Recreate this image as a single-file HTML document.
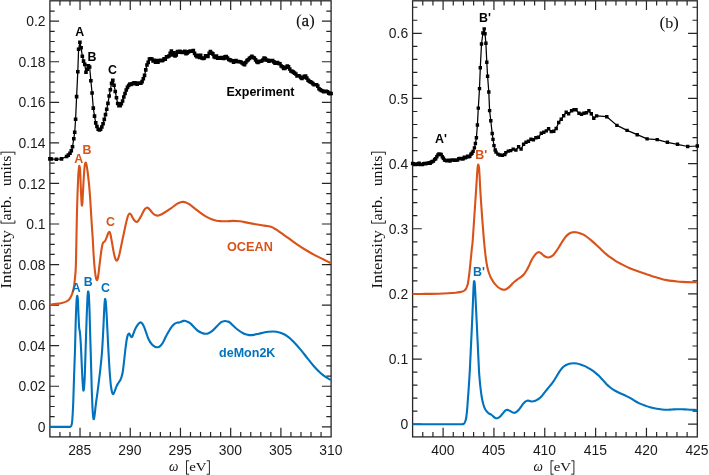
<!DOCTYPE html>
<html><head><meta charset="utf-8"><title>XAS spectra</title>
<style>html,body{margin:0;padding:0;background:#fff;}body{width:709px;height:475px;overflow:hidden;position:relative;font-family:"Liberation Sans",sans-serif;}</style>
</head><body>
<svg width="709" height="475" viewBox="0 0 709 475" style="position:absolute;left:0;top:0;will-change:transform;opacity:0.999">
<rect width="709" height="475" fill="#fff"/>
<path d="M59.94 436.90 v-4.80 M59.94 0.80 v4.80 M69.99 436.90 v-4.80 M69.99 0.80 v4.80 M80.03 436.90 v-9.20 M80.03 0.80 v9.20 M90.07 436.90 v-4.80 M90.07 0.80 v4.80 M100.11 436.90 v-4.80 M100.11 0.80 v4.80 M110.16 436.90 v-4.80 M110.16 0.80 v4.80 M120.20 436.90 v-4.80 M120.20 0.80 v4.80 M130.24 436.90 v-9.20 M130.24 0.80 v9.20 M140.29 436.90 v-4.80 M140.29 0.80 v4.80 M150.33 436.90 v-4.80 M150.33 0.80 v4.80 M160.37 436.90 v-4.80 M160.37 0.80 v4.80 M170.41 436.90 v-4.80 M170.41 0.80 v4.80 M180.46 436.90 v-9.20 M180.46 0.80 v9.20 M190.50 436.90 v-4.80 M190.50 0.80 v4.80 M200.54 436.90 v-4.80 M200.54 0.80 v4.80 M210.59 436.90 v-4.80 M210.59 0.80 v4.80 M220.63 436.90 v-4.80 M220.63 0.80 v4.80 M230.67 436.90 v-9.20 M230.67 0.80 v9.20 M240.71 436.90 v-4.80 M240.71 0.80 v4.80 M250.76 436.90 v-4.80 M250.76 0.80 v4.80 M260.80 436.90 v-4.80 M260.80 0.80 v4.80 M270.84 436.90 v-4.80 M270.84 0.80 v4.80 M280.89 436.90 v-9.20 M280.89 0.80 v9.20 M290.93 436.90 v-4.80 M290.93 0.80 v4.80 M300.97 436.90 v-4.80 M300.97 0.80 v4.80 M311.01 436.90 v-4.80 M311.01 0.80 v4.80 M321.06 436.90 v-4.80 M321.06 0.80 v4.80 M49.90 426.80 h9.20 M331.10 426.80 h-9.20 M49.90 416.66 h4.80 M331.10 416.66 h-4.80 M49.90 406.52 h4.80 M331.10 406.52 h-4.80 M49.90 396.38 h4.80 M331.10 396.38 h-4.80 M49.90 386.24 h9.20 M331.10 386.24 h-9.20 M49.90 376.10 h4.80 M331.10 376.10 h-4.80 M49.90 365.96 h4.80 M331.10 365.96 h-4.80 M49.90 355.82 h4.80 M331.10 355.82 h-4.80 M49.90 345.68 h9.20 M331.10 345.68 h-9.20 M49.90 335.54 h4.80 M331.10 335.54 h-4.80 M49.90 325.40 h4.80 M331.10 325.40 h-4.80 M49.90 315.26 h4.80 M331.10 315.26 h-4.80 M49.90 305.12 h9.20 M331.10 305.12 h-9.20 M49.90 294.98 h4.80 M331.10 294.98 h-4.80 M49.90 284.84 h4.80 M331.10 284.84 h-4.80 M49.90 274.70 h4.80 M331.10 274.70 h-4.80 M49.90 264.56 h9.20 M331.10 264.56 h-9.20 M49.90 254.42 h4.80 M331.10 254.42 h-4.80 M49.90 244.28 h4.80 M331.10 244.28 h-4.80 M49.90 234.14 h4.80 M331.10 234.14 h-4.80 M49.90 224.00 h9.20 M331.10 224.00 h-9.20 M49.90 213.86 h4.80 M331.10 213.86 h-4.80 M49.90 203.72 h4.80 M331.10 203.72 h-4.80 M49.90 193.58 h4.80 M331.10 193.58 h-4.80 M49.90 183.44 h9.20 M331.10 183.44 h-9.20 M49.90 173.30 h4.80 M331.10 173.30 h-4.80 M49.90 163.16 h4.80 M331.10 163.16 h-4.80 M49.90 153.02 h4.80 M331.10 153.02 h-4.80 M49.90 142.88 h9.20 M331.10 142.88 h-9.20 M49.90 132.74 h4.80 M331.10 132.74 h-4.80 M49.90 122.60 h4.80 M331.10 122.60 h-4.80 M49.90 112.46 h4.80 M331.10 112.46 h-4.80 M49.90 102.32 h9.20 M331.10 102.32 h-9.20 M49.90 92.18 h4.80 M331.10 92.18 h-4.80 M49.90 82.04 h4.80 M331.10 82.04 h-4.80 M49.90 71.90 h4.80 M331.10 71.90 h-4.80 M49.90 61.76 h9.20 M331.10 61.76 h-9.20 M49.90 51.62 h4.80 M331.10 51.62 h-4.80 M49.90 41.48 h4.80 M331.10 41.48 h-4.80 M49.90 31.34 h4.80 M331.10 31.34 h-4.80 M49.90 21.20 h9.20 M331.10 21.20 h-9.20 M49.90 11.06 h4.80 M331.10 11.06 h-4.80" stroke="#262626" stroke-width="1.2" fill="none"/>
<rect x="49.90" y="0.80" width="281.20" height="436.10" fill="none" stroke="#262626" stroke-width="1.3"/>
<path d="M422.77 436.90 v-4.80 M422.77 0.80 v4.80 M432.94 436.90 v-4.80 M432.94 0.80 v4.80 M443.10 436.90 v-9.20 M443.10 0.80 v9.20 M453.27 436.90 v-4.80 M453.27 0.80 v4.80 M463.44 436.90 v-4.80 M463.44 0.80 v4.80 M473.61 436.90 v-4.80 M473.61 0.80 v4.80 M483.77 436.90 v-4.80 M483.77 0.80 v4.80 M493.94 436.90 v-9.20 M493.94 0.80 v9.20 M504.11 436.90 v-4.80 M504.11 0.80 v4.80 M514.28 436.90 v-4.80 M514.28 0.80 v4.80 M524.45 436.90 v-4.80 M524.45 0.80 v4.80 M534.61 436.90 v-4.80 M534.61 0.80 v4.80 M544.78 436.90 v-9.20 M544.78 0.80 v9.20 M554.95 436.90 v-4.80 M554.95 0.80 v4.80 M565.12 436.90 v-4.80 M565.12 0.80 v4.80 M575.29 436.90 v-4.80 M575.29 0.80 v4.80 M585.45 436.90 v-4.80 M585.45 0.80 v4.80 M595.62 436.90 v-9.20 M595.62 0.80 v9.20 M605.79 436.90 v-4.80 M605.79 0.80 v4.80 M615.96 436.90 v-4.80 M615.96 0.80 v4.80 M626.12 436.90 v-4.80 M626.12 0.80 v4.80 M636.29 436.90 v-4.80 M636.29 0.80 v4.80 M646.46 436.90 v-9.20 M646.46 0.80 v9.20 M656.63 436.90 v-4.80 M656.63 0.80 v4.80 M666.80 436.90 v-4.80 M666.80 0.80 v4.80 M676.96 436.90 v-4.80 M676.96 0.80 v4.80 M687.13 436.90 v-4.80 M687.13 0.80 v4.80 M412.60 424.20 h9.20 M697.30 424.20 h-9.20 M412.60 411.17 h4.80 M697.30 411.17 h-4.80 M412.60 398.14 h4.80 M697.30 398.14 h-4.80 M412.60 385.11 h4.80 M697.30 385.11 h-4.80 M412.60 372.08 h4.80 M697.30 372.08 h-4.80 M412.60 359.05 h9.20 M697.30 359.05 h-9.20 M412.60 346.02 h4.80 M697.30 346.02 h-4.80 M412.60 332.99 h4.80 M697.30 332.99 h-4.80 M412.60 319.96 h4.80 M697.30 319.96 h-4.80 M412.60 306.93 h4.80 M697.30 306.93 h-4.80 M412.60 293.90 h9.20 M697.30 293.90 h-9.20 M412.60 280.87 h4.80 M697.30 280.87 h-4.80 M412.60 267.84 h4.80 M697.30 267.84 h-4.80 M412.60 254.81 h4.80 M697.30 254.81 h-4.80 M412.60 241.78 h4.80 M697.30 241.78 h-4.80 M412.60 228.75 h9.20 M697.30 228.75 h-9.20 M412.60 215.72 h4.80 M697.30 215.72 h-4.80 M412.60 202.69 h4.80 M697.30 202.69 h-4.80 M412.60 189.66 h4.80 M697.30 189.66 h-4.80 M412.60 176.63 h4.80 M697.30 176.63 h-4.80 M412.60 163.60 h9.20 M697.30 163.60 h-9.20 M412.60 150.57 h4.80 M697.30 150.57 h-4.80 M412.60 137.54 h4.80 M697.30 137.54 h-4.80 M412.60 124.51 h4.80 M697.30 124.51 h-4.80 M412.60 111.48 h4.80 M697.30 111.48 h-4.80 M412.60 98.45 h9.20 M697.30 98.45 h-9.20 M412.60 85.42 h4.80 M697.30 85.42 h-4.80 M412.60 72.39 h4.80 M697.30 72.39 h-4.80 M412.60 59.36 h4.80 M697.30 59.36 h-4.80 M412.60 46.33 h4.80 M697.30 46.33 h-4.80 M412.60 33.30 h9.20 M697.30 33.30 h-9.20 M412.60 20.27 h4.80 M697.30 20.27 h-4.80 M412.60 7.24 h4.80 M697.30 7.24 h-4.80" stroke="#262626" stroke-width="1.2" fill="none"/>
<rect x="412.60" y="0.80" width="284.70" height="436.10" fill="none" stroke="#262626" stroke-width="1.3"/>
<path d="M49.90 304.60 C50.92 304.48 53.98 304.18 56.00 303.90 C58.02 303.62 60.33 303.28 62.00 302.90 C63.67 302.52 64.88 302.07 66.00 301.60 C67.12 301.13 67.87 300.95 68.70 300.10 C69.53 299.25 70.35 297.77 71.00 296.50 C71.65 295.23 72.10 294.17 72.60 292.50 C73.10 290.83 73.60 288.92 74.00 286.50 C74.40 284.08 74.70 281.18 75.00 278.00 C75.30 274.82 75.58 272.83 75.80 267.40 C76.02 261.97 76.13 253.30 76.30 245.40 C76.47 237.50 76.63 227.43 76.80 220.00 C76.97 212.57 77.07 207.97 77.30 200.80 C77.53 193.63 77.92 182.60 78.20 177.00 C78.48 171.40 78.78 169.00 79.00 167.20 C79.22 165.40 79.32 165.73 79.50 166.20 C79.68 166.67 79.87 166.03 80.10 170.00 C80.33 173.97 80.65 184.50 80.90 190.00 C81.15 195.50 81.42 200.40 81.60 203.00 C81.78 205.60 81.85 205.77 82.00 205.60 C82.15 205.43 82.25 205.93 82.50 202.00 C82.75 198.07 83.15 187.92 83.50 182.00 C83.85 176.08 84.28 169.68 84.60 166.50 C84.92 163.32 85.13 163.38 85.40 162.90 C85.67 162.42 85.85 162.25 86.20 163.60 C86.55 164.95 87.03 167.62 87.50 171.00 C87.97 174.38 88.55 179.23 89.00 183.90 C89.45 188.57 89.87 194.32 90.20 199.00 C90.53 203.68 90.73 207.67 91.00 212.00 C91.27 216.33 91.52 220.67 91.80 225.00 C92.08 229.33 92.43 233.67 92.70 238.00 C92.97 242.33 93.15 246.83 93.40 251.00 C93.65 255.17 93.93 259.58 94.20 263.00 C94.47 266.42 94.72 269.08 95.00 271.50 C95.28 273.92 95.62 276.10 95.90 277.50 C96.18 278.90 96.45 279.55 96.70 279.90 C96.95 280.25 97.15 280.25 97.40 279.60 C97.65 278.95 97.87 278.27 98.20 276.00 C98.53 273.73 98.95 269.68 99.40 266.00 C99.85 262.32 100.47 257.15 100.90 253.90 C101.33 250.65 101.65 248.32 102.00 246.50 C102.35 244.68 102.63 243.78 103.00 243.00 C103.37 242.22 103.82 242.20 104.20 241.80 C104.58 241.40 104.87 241.42 105.30 240.60 C105.73 239.78 106.32 238.13 106.80 236.90 C107.28 235.67 107.78 234.05 108.20 233.20 C108.62 232.35 108.95 231.75 109.30 231.80 C109.65 231.85 109.87 231.80 110.30 233.50 C110.73 235.20 111.42 239.33 111.90 242.00 C112.38 244.67 112.78 247.25 113.20 249.50 C113.62 251.75 114.00 253.87 114.40 255.50 C114.80 257.13 115.22 258.45 115.60 259.30 C115.98 260.15 116.33 260.57 116.70 260.60 C117.07 260.63 117.33 260.62 117.80 259.50 C118.27 258.38 118.80 256.82 119.50 253.90 C120.20 250.98 121.17 245.95 122.00 242.00 C122.83 238.05 123.80 233.47 124.50 230.20 C125.20 226.93 125.62 224.80 126.20 222.40 C126.78 220.00 127.43 217.28 128.00 215.80 C128.57 214.32 129.07 213.67 129.60 213.50 C130.13 213.33 130.63 213.98 131.20 214.80 C131.77 215.62 132.37 217.37 133.00 218.40 C133.63 219.43 134.37 220.42 135.00 221.00 C135.63 221.58 136.20 222.02 136.80 221.90 C137.40 221.78 137.92 221.22 138.60 220.30 C139.28 219.38 139.95 218.13 140.90 216.40 C141.85 214.67 143.42 211.30 144.30 209.90 C145.18 208.50 145.65 208.37 146.20 208.00 C146.75 207.63 147.05 207.50 147.60 207.70 C148.15 207.90 148.77 208.43 149.50 209.20 C150.23 209.97 151.17 211.38 152.00 212.30 C152.83 213.22 153.62 214.15 154.50 214.70 C155.38 215.25 156.38 215.55 157.30 215.60 C158.22 215.65 158.92 215.43 160.00 215.00 C161.08 214.57 162.05 214.07 163.80 213.00 C165.55 211.93 168.25 210.15 170.50 208.60 C172.75 207.05 175.63 204.75 177.30 203.70 C178.97 202.65 179.52 202.60 180.50 202.30 C181.48 202.00 182.28 201.87 183.20 201.90 C184.12 201.93 185.00 202.12 186.00 202.50 C187.00 202.88 187.27 202.83 189.20 204.20 C191.13 205.57 194.78 208.63 197.60 210.70 C200.42 212.77 203.27 215.00 206.10 216.60 C208.93 218.20 212.28 219.55 214.60 220.30 C216.92 221.05 218.10 220.93 220.00 221.10 C221.90 221.27 223.80 221.33 226.00 221.30 C228.20 221.27 230.87 220.90 233.20 220.90 C235.53 220.90 237.70 221.02 240.00 221.30 C242.30 221.58 244.42 222.12 247.00 222.60 C249.58 223.08 253.00 223.75 255.50 224.20 C258.00 224.65 260.08 225.00 262.00 225.30 C263.92 225.60 265.40 225.70 267.00 226.00 C268.60 226.30 270.18 226.57 271.60 227.10 C273.02 227.63 274.23 228.45 275.50 229.20 C276.77 229.95 277.10 230.15 279.20 231.60 C281.30 233.05 285.13 235.78 288.10 237.90 C291.07 240.02 294.05 242.28 297.00 244.30 C299.95 246.32 302.85 248.20 305.80 250.00 C308.75 251.80 311.73 253.52 314.70 255.10 C317.67 256.68 320.87 258.15 323.60 259.50 C326.33 260.85 329.85 262.58 331.10 263.20" fill="none" stroke="#D95319" stroke-width="2.1" stroke-linejoin="round" stroke-linecap="butt"/>
<path d="M49.90 426.90 C51.58 426.90 56.98 426.90 60.00 426.90 C63.02 426.90 66.27 426.92 68.00 426.90 C69.73 426.88 69.83 427.03 70.40 426.80 C70.97 426.57 71.12 426.30 71.40 425.50 C71.68 424.70 71.87 424.25 72.10 422.00 C72.33 419.75 72.60 415.53 72.80 412.00 C73.00 408.47 73.08 406.90 73.30 400.80 C73.52 394.70 73.82 383.87 74.10 375.40 C74.38 366.93 74.73 358.85 75.00 350.00 C75.27 341.15 75.45 330.30 75.70 322.30 C75.95 314.30 76.28 306.28 76.50 302.00 C76.72 297.72 76.85 297.57 77.00 296.60 C77.15 295.63 77.25 295.63 77.40 296.20 C77.55 296.77 77.72 296.87 77.90 300.00 C78.08 303.13 78.30 310.50 78.50 315.00 C78.70 319.50 78.88 324.25 79.10 327.00 C79.32 329.75 79.58 329.73 79.80 331.50 C80.02 333.27 80.18 334.52 80.40 337.60 C80.62 340.68 80.85 344.93 81.10 350.00 C81.35 355.07 81.65 362.67 81.90 368.00 C82.15 373.33 82.38 378.40 82.60 382.00 C82.82 385.60 83.03 388.20 83.20 389.60 C83.37 391.00 83.45 390.75 83.60 390.40 C83.75 390.05 83.90 390.00 84.10 387.50 C84.30 385.00 84.55 381.65 84.80 375.40 C85.05 369.15 85.32 358.85 85.60 350.00 C85.88 341.15 86.20 330.80 86.50 322.30 C86.80 313.80 87.17 303.95 87.40 299.00 C87.63 294.05 87.75 293.83 87.90 292.60 C88.05 291.37 88.15 291.28 88.30 291.60 C88.45 291.92 88.60 291.43 88.80 294.50 C89.00 297.57 89.27 303.25 89.50 310.00 C89.73 316.75 89.95 326.33 90.20 335.00 C90.45 343.67 90.75 353.17 91.00 362.00 C91.25 370.83 91.47 380.67 91.70 388.00 C91.93 395.33 92.18 401.42 92.40 406.00 C92.62 410.58 92.80 413.33 93.00 415.50 C93.20 417.67 93.42 418.53 93.60 419.00 C93.78 419.47 93.90 419.22 94.10 418.30 C94.30 417.38 94.48 416.05 94.80 413.50 C95.12 410.95 95.55 406.53 96.00 403.00 C96.45 399.47 96.83 397.47 97.50 392.30 C98.17 387.13 99.25 378.72 100.00 372.00 C100.75 365.28 101.43 359.43 102.00 352.00 C102.57 344.57 103.02 334.82 103.40 327.40 C103.78 319.98 104.05 312.07 104.30 307.50 C104.55 302.93 104.73 301.38 104.90 300.00 C105.07 298.62 105.15 298.83 105.30 299.20 C105.45 299.57 105.58 299.73 105.80 302.20 C106.02 304.67 106.32 309.03 106.60 314.00 C106.88 318.97 107.18 325.67 107.50 332.00 C107.82 338.33 108.13 345.33 108.50 352.00 C108.87 358.67 109.28 366.25 109.70 372.00 C110.12 377.75 110.58 383.03 111.00 386.50 C111.42 389.97 111.85 391.52 112.20 392.80 C112.55 394.08 112.80 394.17 113.10 394.20 C113.40 394.23 113.65 393.73 114.00 393.00 C114.35 392.27 114.78 390.92 115.20 389.80 C115.62 388.68 116.07 387.28 116.50 386.30 C116.93 385.32 117.35 384.65 117.80 383.90 C118.25 383.15 118.75 382.48 119.20 381.80 C119.65 381.12 120.07 380.77 120.50 379.80 C120.93 378.83 121.40 377.47 121.80 376.00 C122.20 374.53 122.50 373.67 122.90 371.00 C123.30 368.33 123.80 363.50 124.20 360.00 C124.60 356.50 124.92 353.17 125.30 350.00 C125.68 346.83 126.12 343.40 126.50 341.00 C126.88 338.60 127.25 336.82 127.60 335.60 C127.95 334.38 128.28 333.97 128.60 333.70 C128.92 333.43 129.17 333.58 129.50 334.00 C129.83 334.42 130.25 335.68 130.60 336.20 C130.95 336.72 131.27 337.13 131.60 337.10 C131.93 337.07 132.20 336.85 132.60 336.00 C133.00 335.15 133.43 333.42 134.00 332.00 C134.57 330.58 135.33 328.78 136.00 327.50 C136.67 326.22 137.40 325.08 138.00 324.30 C138.60 323.52 139.12 323.12 139.60 322.80 C140.08 322.48 140.45 322.27 140.90 322.40 C141.35 322.53 141.70 322.70 142.30 323.60 C142.90 324.50 143.47 325.23 144.50 327.80 C145.53 330.37 147.25 336.22 148.50 339.00 C149.75 341.78 150.83 343.17 152.00 344.50 C153.17 345.83 154.52 346.55 155.50 347.00 C156.48 347.45 157.10 347.37 157.90 347.20 C158.70 347.03 159.45 346.78 160.30 346.00 C161.15 345.22 162.00 344.20 163.00 342.50 C164.00 340.80 164.90 338.35 166.30 335.80 C167.70 333.25 169.95 329.25 171.40 327.20 C172.85 325.15 174.02 324.27 175.00 323.50 C175.98 322.73 176.63 322.75 177.30 322.60 C177.97 322.45 178.38 322.73 179.00 322.60 C179.62 322.47 180.25 322.08 181.00 321.80 C181.75 321.52 182.75 321.05 183.50 320.90 C184.25 320.75 184.75 320.72 185.50 320.90 C186.25 321.08 187.10 321.50 188.00 322.00 C188.90 322.50 189.30 322.47 190.90 323.90 C192.50 325.33 195.75 329.08 197.60 330.60 C199.45 332.12 200.68 332.47 202.00 333.00 C203.32 333.53 204.42 333.77 205.50 333.80 C206.58 333.83 207.27 333.77 208.50 333.20 C209.73 332.63 211.05 332.03 212.90 330.40 C214.75 328.77 218.00 324.87 219.60 323.40 C221.20 321.93 221.60 322.00 222.50 321.60 C223.40 321.20 224.17 321.02 225.00 321.00 C225.83 320.98 226.67 321.23 227.50 321.50 C228.33 321.77 228.45 321.35 230.00 322.60 C231.55 323.85 234.53 327.18 236.80 329.00 C239.07 330.82 241.73 332.52 243.60 333.50 C245.47 334.48 246.60 334.63 248.00 334.90 C249.40 335.17 250.18 335.30 252.00 335.10 C253.82 334.90 256.90 334.13 258.90 333.70 C260.90 333.27 262.32 332.82 264.00 332.50 C265.68 332.18 267.50 331.97 269.00 331.80 C270.50 331.63 271.75 331.50 273.00 331.50 C274.25 331.50 275.27 331.58 276.50 331.80 C277.73 332.02 279.15 332.40 280.40 332.80 C281.65 333.20 282.88 333.65 284.00 334.20 C285.12 334.75 286.02 335.33 287.10 336.10 C288.18 336.87 289.38 337.82 290.50 338.80 C291.62 339.78 292.12 340.20 293.80 342.00 C295.48 343.80 298.35 346.92 300.60 349.60 C302.85 352.28 305.05 355.28 307.30 358.10 C309.55 360.92 311.85 363.98 314.10 366.50 C316.35 369.02 318.83 371.43 320.80 373.20 C322.77 374.97 324.18 375.93 325.90 377.10 C327.62 378.27 330.23 379.68 331.10 380.20" fill="none" stroke="#0072BD" stroke-width="2.1" stroke-linejoin="round" stroke-linecap="butt"/>
<path d="M412.60 294.00 C414.67 293.98 420.62 293.95 425.00 293.90 C429.38 293.85 435.07 293.80 438.90 293.70 C442.73 293.60 445.18 293.47 448.00 293.30 C450.82 293.13 453.80 292.90 455.80 292.70 C457.80 292.50 458.88 292.30 460.00 292.10 C461.12 291.90 461.75 291.77 462.50 291.50 C463.25 291.23 463.93 290.93 464.50 290.50 C465.07 290.07 465.48 289.57 465.90 288.90 C466.32 288.23 466.65 287.48 467.00 286.50 C467.35 285.52 467.62 285.13 468.00 283.00 C468.38 280.87 468.85 277.50 469.30 273.70 C469.75 269.90 470.27 264.48 470.70 260.20 C471.13 255.92 471.57 251.23 471.90 248.00 C472.23 244.77 472.28 246.23 472.70 240.80 C473.12 235.37 473.83 223.87 474.40 215.40 C474.97 206.93 475.68 196.40 476.10 190.00 C476.52 183.60 476.67 180.58 476.90 177.00 C477.13 173.42 477.32 170.50 477.50 168.50 C477.68 166.50 477.83 165.58 478.00 165.00 C478.17 164.42 478.32 164.42 478.50 165.00 C478.68 165.58 478.90 166.33 479.10 168.50 C479.30 170.67 479.50 174.42 479.70 178.00 C479.90 181.58 479.92 183.77 480.30 190.00 C480.68 196.23 481.43 207.50 482.00 215.40 C482.57 223.30 483.23 231.80 483.70 237.40 C484.17 243.00 484.43 245.48 484.80 249.00 C485.17 252.52 485.50 255.58 485.90 258.50 C486.30 261.42 486.72 264.17 487.20 266.50 C487.68 268.83 488.20 270.67 488.80 272.50 C489.40 274.33 490.10 276.03 490.80 277.50 C491.50 278.97 492.22 280.12 493.00 281.30 C493.78 282.48 494.65 283.62 495.50 284.60 C496.35 285.58 497.18 286.47 498.10 287.20 C499.02 287.93 500.02 288.57 501.00 289.00 C501.98 289.43 503.08 289.80 504.00 289.80 C504.92 289.80 505.52 289.57 506.50 289.00 C507.48 288.43 508.90 287.30 509.90 286.40 C510.90 285.50 511.65 284.45 512.50 283.60 C513.35 282.75 514.17 282.00 515.00 281.30 C515.83 280.60 516.65 280.02 517.50 279.40 C518.35 278.78 519.05 278.42 520.10 277.60 C521.15 276.78 522.73 275.68 523.80 274.50 C524.87 273.32 525.65 271.92 526.50 270.50 C527.35 269.08 528.15 267.55 528.90 266.00 C529.65 264.45 530.30 262.62 531.00 261.20 C531.70 259.78 532.43 258.57 533.10 257.50 C533.77 256.43 534.38 255.55 535.00 254.80 C535.62 254.05 536.23 253.43 536.80 253.00 C537.37 252.57 537.90 252.30 538.40 252.20 C538.90 252.10 539.33 252.20 539.80 252.40 C540.27 252.60 540.67 252.97 541.20 253.40 C541.73 253.83 542.28 254.43 543.00 255.00 C543.72 255.57 544.62 256.38 545.50 256.80 C546.38 257.22 547.42 257.50 548.30 257.50 C549.18 257.50 549.95 257.22 550.80 256.80 C551.65 256.38 552.48 255.93 553.40 255.00 C554.32 254.07 555.32 252.62 556.30 251.20 C557.28 249.78 558.30 248.10 559.30 246.50 C560.30 244.90 561.32 243.12 562.30 241.60 C563.28 240.08 564.28 238.57 565.20 237.40 C566.12 236.23 566.95 235.33 567.80 234.60 C568.65 233.87 569.43 233.40 570.30 233.00 C571.17 232.60 572.15 232.33 573.00 232.20 C573.85 232.07 574.40 232.08 575.40 232.20 C576.40 232.32 577.73 232.53 579.00 232.90 C580.27 233.27 581.67 233.72 583.00 234.40 C584.33 235.08 585.58 235.97 587.00 237.00 C588.42 238.03 589.75 239.12 591.50 240.60 C593.25 242.08 595.82 244.35 597.50 245.90 C599.18 247.45 600.20 248.57 601.60 249.90 C603.00 251.23 604.48 252.68 605.90 253.90 C607.32 255.12 608.68 256.17 610.10 257.20 C611.52 258.23 613.00 259.20 614.40 260.10 C615.80 261.00 617.08 261.80 618.50 262.60 C619.92 263.40 621.32 264.10 622.90 264.90 C624.48 265.70 626.32 266.62 628.00 267.40 C629.68 268.18 631.00 268.82 633.00 269.60 C635.00 270.38 637.75 271.33 640.00 272.10 C642.25 272.87 644.58 273.55 646.50 274.20 C648.42 274.85 649.80 275.45 651.50 276.00 C653.20 276.55 655.03 277.02 656.70 277.50 C658.37 277.98 659.80 278.47 661.50 278.90 C663.20 279.33 665.15 279.77 666.90 280.10 C668.65 280.43 670.32 280.67 672.00 280.90 C673.68 281.13 675.33 281.33 677.00 281.50 C678.67 281.67 680.30 281.80 682.00 281.90 C683.70 282.00 685.53 282.05 687.20 282.10 C688.87 282.15 690.32 282.20 692.00 282.20 C693.68 282.20 696.42 282.12 697.30 282.10" fill="none" stroke="#D95319" stroke-width="2.1" stroke-linejoin="round" stroke-linecap="butt"/>
<path d="M412.60 424.20 C415.50 424.20 423.77 424.20 430.00 424.20 C436.23 424.20 445.00 424.20 450.00 424.20 C455.00 424.20 457.85 424.22 460.00 424.20 C462.15 424.18 462.18 424.25 462.90 424.10 C463.62 423.95 463.87 423.85 464.30 423.30 C464.73 422.75 465.15 421.93 465.50 420.80 C465.85 419.67 466.12 418.48 466.40 416.50 C466.68 414.52 466.95 411.82 467.20 408.90 C467.45 405.98 467.68 401.97 467.90 399.00 C468.12 396.03 468.18 395.80 468.50 391.10 C468.82 386.40 469.38 378.42 469.80 370.80 C470.22 363.18 470.60 353.87 471.00 345.40 C471.40 336.93 471.88 327.07 472.20 320.00 C472.52 312.93 472.68 308.33 472.90 303.00 C473.12 297.67 473.33 291.47 473.50 288.00 C473.67 284.53 473.77 283.33 473.90 282.20 C474.03 281.07 474.17 281.07 474.30 281.20 C474.43 281.33 474.53 281.03 474.70 283.00 C474.87 284.97 475.08 288.83 475.30 293.00 C475.52 297.17 475.78 303.50 476.00 308.00 C476.22 312.50 476.30 313.77 476.60 320.00 C476.90 326.23 477.40 336.93 477.80 345.40 C478.20 353.87 478.67 364.87 479.00 370.80 C479.33 376.73 479.52 377.88 479.80 381.00 C480.08 384.12 480.42 387.08 480.70 389.50 C480.98 391.92 481.22 393.67 481.50 395.50 C481.78 397.33 482.05 398.88 482.40 400.50 C482.75 402.12 483.18 403.85 483.60 405.20 C484.02 406.55 484.42 407.60 484.90 408.60 C485.38 409.60 485.93 410.47 486.50 411.20 C487.07 411.93 487.72 412.53 488.30 413.00 C488.88 413.47 489.43 413.67 490.00 414.00 C490.57 414.33 491.12 414.57 491.70 415.00 C492.28 415.43 492.95 416.13 493.50 416.60 C494.05 417.07 494.53 417.52 495.00 417.80 C495.47 418.08 495.83 418.25 496.30 418.30 C496.77 418.35 497.15 418.40 497.80 418.10 C498.45 417.80 499.42 417.22 500.20 416.50 C500.98 415.78 501.80 414.63 502.50 413.80 C503.20 412.97 503.82 412.10 504.40 411.50 C504.98 410.90 505.50 410.47 506.00 410.20 C506.50 409.93 506.90 409.87 507.40 409.90 C507.90 409.93 508.37 410.10 509.00 410.40 C509.63 410.70 510.53 411.33 511.20 411.70 C511.87 412.07 512.43 412.42 513.00 412.60 C513.57 412.78 514.02 412.92 514.60 412.80 C515.18 412.68 515.80 412.40 516.50 411.90 C517.20 411.40 518.05 410.65 518.80 409.80 C519.55 408.95 520.30 407.78 521.00 406.80 C521.70 405.82 522.33 404.73 523.00 403.90 C523.67 403.07 524.30 402.33 525.00 401.80 C525.70 401.27 526.45 400.85 527.20 400.70 C527.95 400.55 528.65 400.77 529.50 400.90 C530.35 401.03 531.47 401.47 532.30 401.50 C533.13 401.53 533.78 401.33 534.50 401.10 C535.22 400.87 535.85 400.52 536.60 400.10 C537.35 399.68 538.17 399.25 539.00 398.60 C539.83 397.95 540.68 397.20 541.60 396.20 C542.52 395.20 543.53 393.80 544.50 392.60 C545.47 391.40 546.42 390.20 547.40 389.00 C548.38 387.80 549.42 386.62 550.40 385.40 C551.38 384.18 552.33 383.10 553.30 381.70 C554.27 380.30 555.23 378.60 556.20 377.00 C557.17 375.40 558.13 373.57 559.10 372.10 C560.07 370.63 561.02 369.28 562.00 368.20 C562.98 367.12 564.00 366.27 565.00 365.60 C566.00 364.93 567.02 364.55 568.00 364.20 C568.98 363.85 569.90 363.65 570.90 363.50 C571.90 363.35 573.02 363.30 574.00 363.30 C574.98 363.30 575.72 363.30 576.80 363.50 C577.88 363.70 579.27 364.10 580.50 364.50 C581.73 364.90 582.95 365.35 584.20 365.90 C585.45 366.45 586.78 367.13 588.00 367.80 C589.22 368.47 590.30 369.10 591.50 369.90 C592.70 370.70 593.97 371.62 595.20 372.60 C596.43 373.58 597.67 374.60 598.90 375.80 C600.13 377.00 601.37 378.45 602.60 379.80 C603.83 381.15 605.07 382.67 606.30 383.90 C607.53 385.13 608.78 386.22 610.00 387.20 C611.22 388.18 612.27 388.97 613.60 389.80 C614.93 390.63 616.52 391.47 618.00 392.20 C619.48 392.93 621.08 393.55 622.50 394.20 C623.92 394.85 625.17 395.43 626.50 396.10 C627.83 396.77 629.08 397.38 630.50 398.20 C631.92 399.02 633.42 400.10 635.00 401.00 C636.58 401.90 638.33 402.83 640.00 403.60 C641.67 404.37 643.33 404.98 645.00 405.60 C646.67 406.22 648.05 406.77 650.00 407.30 C651.95 407.83 654.70 408.43 656.70 408.80 C658.70 409.17 660.30 409.33 662.00 409.50 C663.70 409.67 665.23 409.80 666.90 409.80 C668.57 409.80 670.32 409.60 672.00 409.50 C673.68 409.40 675.33 409.23 677.00 409.20 C678.67 409.17 680.30 409.25 682.00 409.30 C683.70 409.35 685.53 409.42 687.20 409.50 C688.87 409.58 690.32 409.70 692.00 409.80 C693.68 409.90 696.42 410.05 697.30 410.10" fill="none" stroke="#0072BD" stroke-width="2.1" stroke-linejoin="round" stroke-linecap="butt"/>
<path d="M49.90 158.90 L51.40 159.00 L56.40 159.30 L61.50 158.90 L66.60 156.48 L68.30 155.16 L70.00 153.31 L71.30 150.68 L72.50 146.76 L73.80 138.75 L74.70 132.30 L75.60 119.20 L76.60 96.60 L77.80 71.80 L78.60 49.30 L79.90 42.20 L81.10 47.80 L82.32 56.26 L83.54 61.13 L84.76 64.37 L85.98 72.30 L87.20 69.25 L88.42 65.79 L89.64 67.05 L90.86 80.72 L92.08 93.01 L93.30 108.09 L94.52 116.16 L95.74 122.87 L96.96 126.56 L98.18 129.24 L99.40 130.02 L100.62 129.23 L101.84 126.94 L103.06 123.70 L104.28 119.33 L105.50 114.64 L106.72 109.27 L107.94 103.36 L109.16 96.04 L110.38 89.69 L111.60 83.36 L112.82 80.40 L114.04 85.23 L115.26 91.45 L116.48 97.79 L117.70 103.52 L118.92 105.79 L120.14 105.67 L121.36 103.79 L122.58 101.04 L123.80 97.05 L125.02 93.46 L126.24 90.01 L127.46 87.35 L128.68 85.50 L129.90 84.06 L131.12 84.41 L132.34 83.78 L133.56 83.06 L134.78 82.79 L136.00 83.61 L137.22 84.21 L138.44 83.11 L139.66 83.23 L140.88 83.11 L142.10 81.63 L143.32 78.78 L144.54 75.34 L145.76 69.84 L146.98 65.00 L148.20 62.41 L149.42 59.01 L150.64 58.81 L151.86 59.06 L153.08 60.87 L154.30 60.34 L155.52 62.20 L156.74 60.63 L157.96 62.11 L159.18 60.71 L160.40 60.37 L161.62 60.72 L162.84 60.35 L164.06 58.76 L165.28 59.30 L166.50 56.92 L167.72 56.76 L168.94 56.03 L170.16 53.23 L171.38 51.01 L172.60 54.87 L173.82 52.74 L175.04 56.02 L176.26 54.88 L177.48 51.54 L178.70 52.10 L179.92 51.36 L181.14 52.11 L182.36 52.40 L183.58 51.99 L184.80 51.41 L186.02 53.75 L187.24 52.94 L188.46 51.84 L189.68 51.30 L190.90 51.12 L192.12 50.99 L193.34 50.54 L194.56 53.41 L195.78 55.49 L197.00 56.59 L198.22 55.26 L199.44 57.41 L200.66 55.29 L201.88 57.96 L203.10 58.33 L204.32 57.94 L205.54 55.85 L206.76 56.17 L207.98 56.37 L209.20 53.31 L210.42 51.47 L211.64 53.05 L212.86 53.87 L214.08 56.69 L215.30 57.52 L216.52 56.10 L217.74 58.12 L218.96 57.83 L220.18 58.26 L221.40 57.52 L222.62 58.15 L223.84 58.42 L225.06 56.74 L226.28 56.59 L227.50 57.98 L228.72 59.55 L229.94 59.84 L231.16 60.67 L232.38 60.74 L233.60 62.13 L234.82 61.47 L236.04 60.47 L237.26 61.56 L238.48 61.61 L239.70 61.75 L240.92 61.94 L242.14 63.04 L243.36 63.92 L244.58 64.75 L245.80 62.51 L247.02 60.60 L248.24 59.70 L249.46 58.38 L250.68 57.55 L251.90 56.27 L253.12 57.51 L254.34 57.94 L255.56 59.86 L256.78 61.65 L258.00 62.39 L259.22 61.42 L260.44 61.21 L261.66 61.03 L262.88 60.05 L264.10 58.06 L265.32 58.54 L266.54 59.98 L267.76 60.25 L268.98 61.27 L270.20 60.55 L271.42 60.69 L272.64 60.48 L273.86 61.89 L275.08 63.31 L276.30 62.48 L277.52 62.60 L278.74 63.49 L279.96 63.72 L281.18 66.05 L282.40 66.79 L283.62 68.39 L284.84 68.38 L286.06 67.22 L287.28 66.04 L288.50 66.92 L289.72 69.06 L290.94 71.07 L292.16 71.35 L293.38 72.14 L294.60 73.09 L295.82 73.99 L297.04 75.91 L298.26 75.68 L299.48 76.03 L300.70 77.49 L301.92 78.45 L303.14 77.38 L304.36 76.28 L305.58 76.05 L306.80 77.93 L308.02 80.17 L309.24 81.29 L310.46 81.85 L311.68 82.43 L312.90 83.65 L314.12 84.78 L315.34 84.73 L316.56 84.72 L317.78 86.08 L319.00 88.68 L320.22 89.76 L321.44 90.52 L322.66 91.04 L323.88 91.71 L325.10 91.30 L326.32 91.19 L327.54 91.71 L328.76 93.16 L329.98 93.71 L331.10 93.57" fill="none" stroke="#000" stroke-width="1.25" stroke-linejoin="round"/>
<path d="M48.10 157.10h3.60v3.60h-3.60zM49.60 157.20h3.60v3.60h-3.60zM54.60 157.50h3.60v3.60h-3.60zM59.70 157.10h3.60v3.60h-3.60zM64.80 154.68h3.60v3.60h-3.60zM66.50 153.36h3.60v3.60h-3.60zM68.20 151.51h3.60v3.60h-3.60zM69.50 148.88h3.60v3.60h-3.60zM70.70 144.96h3.60v3.60h-3.60zM72.00 136.95h3.60v3.60h-3.60zM72.90 130.50h3.60v3.60h-3.60zM73.80 117.40h3.60v3.60h-3.60zM74.80 94.80h3.60v3.60h-3.60zM76.00 70.00h3.60v3.60h-3.60zM76.80 47.50h3.60v3.60h-3.60zM78.10 40.40h3.60v3.60h-3.60zM79.30 46.00h3.60v3.60h-3.60zM80.52 54.46h3.60v3.60h-3.60zM81.74 59.33h3.60v3.60h-3.60zM82.96 62.57h3.60v3.60h-3.60zM84.18 70.50h3.60v3.60h-3.60zM85.40 67.45h3.60v3.60h-3.60zM86.62 63.99h3.60v3.60h-3.60zM87.84 65.25h3.60v3.60h-3.60zM89.06 78.92h3.60v3.60h-3.60zM90.28 91.21h3.60v3.60h-3.60zM91.50 106.29h3.60v3.60h-3.60zM92.72 114.36h3.60v3.60h-3.60zM93.94 121.07h3.60v3.60h-3.60zM95.16 124.76h3.60v3.60h-3.60zM96.38 127.44h3.60v3.60h-3.60zM97.60 128.22h3.60v3.60h-3.60zM98.82 127.43h3.60v3.60h-3.60zM100.04 125.14h3.60v3.60h-3.60zM101.26 121.90h3.60v3.60h-3.60zM102.48 117.53h3.60v3.60h-3.60zM103.70 112.84h3.60v3.60h-3.60zM104.92 107.47h3.60v3.60h-3.60zM106.14 101.56h3.60v3.60h-3.60zM107.36 94.24h3.60v3.60h-3.60zM108.58 87.89h3.60v3.60h-3.60zM109.80 81.56h3.60v3.60h-3.60zM111.02 78.60h3.60v3.60h-3.60zM112.24 83.43h3.60v3.60h-3.60zM113.46 89.65h3.60v3.60h-3.60zM114.68 95.99h3.60v3.60h-3.60zM115.90 101.72h3.60v3.60h-3.60zM117.12 103.99h3.60v3.60h-3.60zM118.34 103.87h3.60v3.60h-3.60zM119.56 101.99h3.60v3.60h-3.60zM120.78 99.24h3.60v3.60h-3.60zM122.00 95.25h3.60v3.60h-3.60zM123.22 91.66h3.60v3.60h-3.60zM124.44 88.21h3.60v3.60h-3.60zM125.66 85.55h3.60v3.60h-3.60zM126.88 83.70h3.60v3.60h-3.60zM128.10 82.26h3.60v3.60h-3.60zM129.32 82.61h3.60v3.60h-3.60zM130.54 81.98h3.60v3.60h-3.60zM131.76 81.26h3.60v3.60h-3.60zM132.98 80.99h3.60v3.60h-3.60zM134.20 81.81h3.60v3.60h-3.60zM135.42 82.41h3.60v3.60h-3.60zM136.64 81.31h3.60v3.60h-3.60zM137.86 81.43h3.60v3.60h-3.60zM139.08 81.31h3.60v3.60h-3.60zM140.30 79.83h3.60v3.60h-3.60zM141.52 76.98h3.60v3.60h-3.60zM142.74 73.54h3.60v3.60h-3.60zM143.96 68.04h3.60v3.60h-3.60zM145.18 63.20h3.60v3.60h-3.60zM146.40 60.61h3.60v3.60h-3.60zM147.62 57.21h3.60v3.60h-3.60zM148.84 57.01h3.60v3.60h-3.60zM150.06 57.26h3.60v3.60h-3.60zM151.28 59.07h3.60v3.60h-3.60zM152.50 58.54h3.60v3.60h-3.60zM153.72 60.40h3.60v3.60h-3.60zM154.94 58.83h3.60v3.60h-3.60zM156.16 60.31h3.60v3.60h-3.60zM157.38 58.91h3.60v3.60h-3.60zM158.60 58.57h3.60v3.60h-3.60zM159.82 58.92h3.60v3.60h-3.60zM161.04 58.55h3.60v3.60h-3.60zM162.26 56.96h3.60v3.60h-3.60zM163.48 57.50h3.60v3.60h-3.60zM164.70 55.12h3.60v3.60h-3.60zM165.92 54.96h3.60v3.60h-3.60zM167.14 54.23h3.60v3.60h-3.60zM168.36 51.43h3.60v3.60h-3.60zM169.58 49.21h3.60v3.60h-3.60zM170.80 53.07h3.60v3.60h-3.60zM172.02 50.94h3.60v3.60h-3.60zM173.24 54.22h3.60v3.60h-3.60zM174.46 53.08h3.60v3.60h-3.60zM175.68 49.74h3.60v3.60h-3.60zM176.90 50.30h3.60v3.60h-3.60zM178.12 49.56h3.60v3.60h-3.60zM179.34 50.31h3.60v3.60h-3.60zM180.56 50.60h3.60v3.60h-3.60zM181.78 50.19h3.60v3.60h-3.60zM183.00 49.61h3.60v3.60h-3.60zM184.22 51.95h3.60v3.60h-3.60zM185.44 51.14h3.60v3.60h-3.60zM186.66 50.04h3.60v3.60h-3.60zM187.88 49.50h3.60v3.60h-3.60zM189.10 49.32h3.60v3.60h-3.60zM190.32 49.19h3.60v3.60h-3.60zM191.54 48.74h3.60v3.60h-3.60zM192.76 51.61h3.60v3.60h-3.60zM193.98 53.69h3.60v3.60h-3.60zM195.20 54.79h3.60v3.60h-3.60zM196.42 53.46h3.60v3.60h-3.60zM197.64 55.61h3.60v3.60h-3.60zM198.86 53.49h3.60v3.60h-3.60zM200.08 56.16h3.60v3.60h-3.60zM201.30 56.53h3.60v3.60h-3.60zM202.52 56.14h3.60v3.60h-3.60zM203.74 54.05h3.60v3.60h-3.60zM204.96 54.37h3.60v3.60h-3.60zM206.18 54.57h3.60v3.60h-3.60zM207.40 51.51h3.60v3.60h-3.60zM208.62 49.67h3.60v3.60h-3.60zM209.84 51.25h3.60v3.60h-3.60zM211.06 52.07h3.60v3.60h-3.60zM212.28 54.89h3.60v3.60h-3.60zM213.50 55.72h3.60v3.60h-3.60zM214.72 54.30h3.60v3.60h-3.60zM215.94 56.32h3.60v3.60h-3.60zM217.16 56.03h3.60v3.60h-3.60zM218.38 56.46h3.60v3.60h-3.60zM219.60 55.72h3.60v3.60h-3.60zM220.82 56.35h3.60v3.60h-3.60zM222.04 56.62h3.60v3.60h-3.60zM223.26 54.94h3.60v3.60h-3.60zM224.48 54.79h3.60v3.60h-3.60zM225.70 56.18h3.60v3.60h-3.60zM226.92 57.75h3.60v3.60h-3.60zM228.14 58.04h3.60v3.60h-3.60zM229.36 58.87h3.60v3.60h-3.60zM230.58 58.94h3.60v3.60h-3.60zM231.80 60.33h3.60v3.60h-3.60zM233.02 59.67h3.60v3.60h-3.60zM234.24 58.67h3.60v3.60h-3.60zM235.46 59.76h3.60v3.60h-3.60zM236.68 59.81h3.60v3.60h-3.60zM237.90 59.95h3.60v3.60h-3.60zM239.12 60.14h3.60v3.60h-3.60zM240.34 61.24h3.60v3.60h-3.60zM241.56 62.12h3.60v3.60h-3.60zM242.78 62.95h3.60v3.60h-3.60zM244.00 60.71h3.60v3.60h-3.60zM245.22 58.80h3.60v3.60h-3.60zM246.44 57.90h3.60v3.60h-3.60zM247.66 56.58h3.60v3.60h-3.60zM248.88 55.75h3.60v3.60h-3.60zM250.10 54.47h3.60v3.60h-3.60zM251.32 55.71h3.60v3.60h-3.60zM252.54 56.14h3.60v3.60h-3.60zM253.76 58.06h3.60v3.60h-3.60zM254.98 59.85h3.60v3.60h-3.60zM256.20 60.59h3.60v3.60h-3.60zM257.42 59.62h3.60v3.60h-3.60zM258.64 59.41h3.60v3.60h-3.60zM259.86 59.23h3.60v3.60h-3.60zM261.08 58.25h3.60v3.60h-3.60zM262.30 56.26h3.60v3.60h-3.60zM263.52 56.74h3.60v3.60h-3.60zM264.74 58.18h3.60v3.60h-3.60zM265.96 58.45h3.60v3.60h-3.60zM267.18 59.47h3.60v3.60h-3.60zM268.40 58.75h3.60v3.60h-3.60zM269.62 58.89h3.60v3.60h-3.60zM270.84 58.68h3.60v3.60h-3.60zM272.06 60.09h3.60v3.60h-3.60zM273.28 61.51h3.60v3.60h-3.60zM274.50 60.68h3.60v3.60h-3.60zM275.72 60.80h3.60v3.60h-3.60zM276.94 61.69h3.60v3.60h-3.60zM278.16 61.92h3.60v3.60h-3.60zM279.38 64.25h3.60v3.60h-3.60zM280.60 64.99h3.60v3.60h-3.60zM281.82 66.59h3.60v3.60h-3.60zM283.04 66.58h3.60v3.60h-3.60zM284.26 65.42h3.60v3.60h-3.60zM285.48 64.24h3.60v3.60h-3.60zM286.70 65.12h3.60v3.60h-3.60zM287.92 67.26h3.60v3.60h-3.60zM289.14 69.27h3.60v3.60h-3.60zM290.36 69.55h3.60v3.60h-3.60zM291.58 70.34h3.60v3.60h-3.60zM292.80 71.29h3.60v3.60h-3.60zM294.02 72.19h3.60v3.60h-3.60zM295.24 74.11h3.60v3.60h-3.60zM296.46 73.88h3.60v3.60h-3.60zM297.68 74.23h3.60v3.60h-3.60zM298.90 75.69h3.60v3.60h-3.60zM300.12 76.65h3.60v3.60h-3.60zM301.34 75.58h3.60v3.60h-3.60zM302.56 74.48h3.60v3.60h-3.60zM303.78 74.25h3.60v3.60h-3.60zM305.00 76.13h3.60v3.60h-3.60zM306.22 78.37h3.60v3.60h-3.60zM307.44 79.49h3.60v3.60h-3.60zM308.66 80.05h3.60v3.60h-3.60zM309.88 80.63h3.60v3.60h-3.60zM311.10 81.85h3.60v3.60h-3.60zM312.32 82.98h3.60v3.60h-3.60zM313.54 82.93h3.60v3.60h-3.60zM314.76 82.92h3.60v3.60h-3.60zM315.98 84.28h3.60v3.60h-3.60zM317.20 86.88h3.60v3.60h-3.60zM318.42 87.96h3.60v3.60h-3.60zM319.64 88.72h3.60v3.60h-3.60zM320.86 89.24h3.60v3.60h-3.60zM322.08 89.91h3.60v3.60h-3.60zM323.30 89.50h3.60v3.60h-3.60zM324.52 89.39h3.60v3.60h-3.60zM325.74 89.91h3.60v3.60h-3.60zM326.96 91.36h3.60v3.60h-3.60zM328.18 91.91h3.60v3.60h-3.60zM329.30 91.77h3.60v3.60h-3.60z" fill="#000"/>
<path d="M412.60 163.54 L413.70 163.65 L414.80 164.43 L415.90 164.61 L417.00 164.21 L418.10 163.58 L419.20 163.10 L420.30 164.61 L421.40 164.45 L422.50 164.56 L423.60 163.69 L424.70 163.49 L425.80 163.68 L426.90 163.32 L428.00 163.29 L429.10 162.75 L430.20 163.32 L431.30 162.02 L432.40 161.49 L433.50 161.16 L434.60 159.42 L435.70 158.72 L436.80 156.76 L437.90 154.92 L439.00 153.99 L440.10 154.16 L441.20 154.43 L442.30 156.80 L443.40 158.27 L444.50 159.98 L445.60 160.38 L446.70 160.90 L447.80 160.52 L448.90 160.26 L450.00 161.11 L451.10 160.10 L452.20 160.03 L453.30 159.86 L454.40 160.35 L455.50 160.28 L456.60 160.03 L457.70 159.97 L458.80 158.62 L459.90 158.38 L461.00 158.57 L462.10 158.94 L463.20 158.75 L464.30 157.28 L465.40 157.81 L466.50 157.16 L467.60 156.32 L468.70 156.82 L469.80 156.36 L470.90 154.31 L472.00 153.31 L473.10 151.37 L474.40 147.90 L475.40 143.50 L476.40 137.70 L477.40 125.00 L478.30 108.10 L479.50 88.60 L480.30 67.70 L481.50 44.00 L482.90 33.00 L484.20 28.90 L485.00 33.80 L485.90 43.20 L486.80 62.30 L487.60 76.20 L488.80 92.00 L489.60 110.60 L490.80 120.80 L492.20 133.50 L493.00 139.40 L494.00 145.60 L495.20 150.00 L496.00 152.10 L497.90 154.10 L499.90 155.00 L502.30 155.30 L504.80 154.60 L505.80 152.60 L508.30 151.10 L510.70 150.60 L513.20 149.10 L515.90 150.10 L518.60 146.70 L521.10 149.10 L523.60 144.20 L526.00 142.20 L528.50 141.20 L531.00 139.30 L533.40 139.70 L535.90 137.80 L538.40 137.30 L541.30 133.30 L543.80 132.30 L546.30 130.90 L548.60 128.70 L551.30 131.60 L553.80 131.20 L556.20 128.50 L558.70 122.50 L561.20 119.20 L563.70 115.70 L566.20 112.30 L568.60 113.80 L571.60 110.80 L574.10 109.80 L576.00 109.80 L579.00 113.30 L581.50 114.20 L583.90 113.30 L586.40 112.80 L588.90 110.80 L591.30 113.80 L593.80 118.20 L596.60 115.90 L606.80 116.70 L616.90 125.40 L627.10 130.40 L637.20 134.70 L647.10 138.90 L657.20 139.60 L667.40 142.30 L677.50 144.30 L687.70 146.50 L697.30 146.00" fill="none" stroke="#000" stroke-width="1.25" stroke-linejoin="round"/>
<path d="M410.90 161.84h3.40v3.40h-3.40zM412.00 161.95h3.40v3.40h-3.40zM413.10 162.73h3.40v3.40h-3.40zM414.20 162.91h3.40v3.40h-3.40zM415.30 162.51h3.40v3.40h-3.40zM416.40 161.88h3.40v3.40h-3.40zM417.50 161.40h3.40v3.40h-3.40zM418.60 162.91h3.40v3.40h-3.40zM419.70 162.75h3.40v3.40h-3.40zM420.80 162.86h3.40v3.40h-3.40zM421.90 161.99h3.40v3.40h-3.40zM423.00 161.79h3.40v3.40h-3.40zM424.10 161.98h3.40v3.40h-3.40zM425.20 161.62h3.40v3.40h-3.40zM426.30 161.59h3.40v3.40h-3.40zM427.40 161.05h3.40v3.40h-3.40zM428.50 161.62h3.40v3.40h-3.40zM429.60 160.32h3.40v3.40h-3.40zM430.70 159.79h3.40v3.40h-3.40zM431.80 159.46h3.40v3.40h-3.40zM432.90 157.72h3.40v3.40h-3.40zM434.00 157.02h3.40v3.40h-3.40zM435.10 155.06h3.40v3.40h-3.40zM436.20 153.22h3.40v3.40h-3.40zM437.30 152.29h3.40v3.40h-3.40zM438.40 152.46h3.40v3.40h-3.40zM439.50 152.73h3.40v3.40h-3.40zM440.60 155.10h3.40v3.40h-3.40zM441.70 156.57h3.40v3.40h-3.40zM442.80 158.28h3.40v3.40h-3.40zM443.90 158.68h3.40v3.40h-3.40zM445.00 159.20h3.40v3.40h-3.40zM446.10 158.82h3.40v3.40h-3.40zM447.20 158.56h3.40v3.40h-3.40zM448.30 159.41h3.40v3.40h-3.40zM449.40 158.40h3.40v3.40h-3.40zM450.50 158.33h3.40v3.40h-3.40zM451.60 158.16h3.40v3.40h-3.40zM452.70 158.65h3.40v3.40h-3.40zM453.80 158.58h3.40v3.40h-3.40zM454.90 158.33h3.40v3.40h-3.40zM456.00 158.27h3.40v3.40h-3.40zM457.10 156.92h3.40v3.40h-3.40zM458.20 156.68h3.40v3.40h-3.40zM459.30 156.87h3.40v3.40h-3.40zM460.40 157.24h3.40v3.40h-3.40zM461.50 157.05h3.40v3.40h-3.40zM462.60 155.58h3.40v3.40h-3.40zM463.70 156.11h3.40v3.40h-3.40zM464.80 155.46h3.40v3.40h-3.40zM465.90 154.62h3.40v3.40h-3.40zM467.00 155.12h3.40v3.40h-3.40zM468.10 154.66h3.40v3.40h-3.40zM469.20 152.61h3.40v3.40h-3.40zM470.30 151.61h3.40v3.40h-3.40zM471.40 149.67h3.40v3.40h-3.40zM472.70 146.20h3.40v3.40h-3.40zM473.70 141.80h3.40v3.40h-3.40zM474.70 136.00h3.40v3.40h-3.40zM475.70 123.30h3.40v3.40h-3.40zM476.60 106.40h3.40v3.40h-3.40zM477.80 86.90h3.40v3.40h-3.40zM478.60 66.00h3.40v3.40h-3.40zM479.80 42.30h3.40v3.40h-3.40zM481.20 31.30h3.40v3.40h-3.40zM482.50 27.20h3.40v3.40h-3.40zM483.30 32.10h3.40v3.40h-3.40zM484.20 41.50h3.40v3.40h-3.40zM485.10 60.60h3.40v3.40h-3.40zM485.90 74.50h3.40v3.40h-3.40zM487.10 90.30h3.40v3.40h-3.40zM487.90 108.90h3.40v3.40h-3.40zM489.10 119.10h3.40v3.40h-3.40zM490.50 131.80h3.40v3.40h-3.40zM491.30 137.70h3.40v3.40h-3.40zM492.30 143.90h3.40v3.40h-3.40zM493.50 148.30h3.40v3.40h-3.40zM494.30 150.40h3.40v3.40h-3.40zM496.20 152.40h3.40v3.40h-3.40zM498.20 153.30h3.40v3.40h-3.40zM500.60 153.60h3.40v3.40h-3.40zM503.10 152.90h3.40v3.40h-3.40zM504.10 150.90h3.40v3.40h-3.40zM506.60 149.40h3.40v3.40h-3.40zM509.00 148.90h3.40v3.40h-3.40zM511.50 147.40h3.40v3.40h-3.40zM514.20 148.40h3.40v3.40h-3.40zM516.90 145.00h3.40v3.40h-3.40zM519.40 147.40h3.40v3.40h-3.40zM521.90 142.50h3.40v3.40h-3.40zM524.30 140.50h3.40v3.40h-3.40zM526.80 139.50h3.40v3.40h-3.40zM529.30 137.60h3.40v3.40h-3.40zM531.70 138.00h3.40v3.40h-3.40zM534.20 136.10h3.40v3.40h-3.40zM536.70 135.60h3.40v3.40h-3.40zM539.60 131.60h3.40v3.40h-3.40zM542.10 130.60h3.40v3.40h-3.40zM544.60 129.20h3.40v3.40h-3.40zM546.90 127.00h3.40v3.40h-3.40zM549.60 129.90h3.40v3.40h-3.40zM552.10 129.50h3.40v3.40h-3.40zM554.50 126.80h3.40v3.40h-3.40zM557.00 120.80h3.40v3.40h-3.40zM559.50 117.50h3.40v3.40h-3.40zM562.00 114.00h3.40v3.40h-3.40zM564.50 110.60h3.40v3.40h-3.40zM566.90 112.10h3.40v3.40h-3.40zM569.90 109.10h3.40v3.40h-3.40zM572.40 108.10h3.40v3.40h-3.40zM574.30 108.10h3.40v3.40h-3.40zM577.30 111.60h3.40v3.40h-3.40zM579.80 112.50h3.40v3.40h-3.40zM582.20 111.60h3.40v3.40h-3.40zM584.70 111.10h3.40v3.40h-3.40zM587.20 109.10h3.40v3.40h-3.40zM589.60 112.10h3.40v3.40h-3.40zM592.10 116.50h3.40v3.40h-3.40zM594.90 114.20h3.40v3.40h-3.40zM605.10 115.00h3.40v3.40h-3.40zM615.20 123.70h3.40v3.40h-3.40zM625.40 128.70h3.40v3.40h-3.40zM635.50 133.00h3.40v3.40h-3.40zM645.40 137.20h3.40v3.40h-3.40zM655.50 137.90h3.40v3.40h-3.40zM665.70 140.60h3.40v3.40h-3.40zM675.80 142.60h3.40v3.40h-3.40zM686.00 144.80h3.40v3.40h-3.40zM695.60 144.30h3.40v3.40h-3.40z" fill="#000"/>
<text x="45.50" y="431.90" font-family="Liberation Sans, sans-serif" font-size="13.90" text-anchor="end" font-weight="normal" font-style="normal" fill="#1a1a1a" textLength="7.73" lengthAdjust="spacingAndGlyphs" >0</text>
<text x="45.50" y="391.34" font-family="Liberation Sans, sans-serif" font-size="13.90" text-anchor="end" font-weight="normal" font-style="normal" fill="#1a1a1a" textLength="27.06" lengthAdjust="spacingAndGlyphs" >0.02</text>
<text x="45.50" y="350.78" font-family="Liberation Sans, sans-serif" font-size="13.90" text-anchor="end" font-weight="normal" font-style="normal" fill="#1a1a1a" textLength="27.06" lengthAdjust="spacingAndGlyphs" >0.04</text>
<text x="45.50" y="310.22" font-family="Liberation Sans, sans-serif" font-size="13.90" text-anchor="end" font-weight="normal" font-style="normal" fill="#1a1a1a" textLength="27.06" lengthAdjust="spacingAndGlyphs" >0.06</text>
<text x="45.50" y="269.66" font-family="Liberation Sans, sans-serif" font-size="13.90" text-anchor="end" font-weight="normal" font-style="normal" fill="#1a1a1a" textLength="27.06" lengthAdjust="spacingAndGlyphs" >0.08</text>
<text x="45.50" y="229.10" font-family="Liberation Sans, sans-serif" font-size="13.90" text-anchor="end" font-weight="normal" font-style="normal" fill="#1a1a1a" textLength="19.33" lengthAdjust="spacingAndGlyphs" >0.1</text>
<text x="45.50" y="188.54" font-family="Liberation Sans, sans-serif" font-size="13.90" text-anchor="end" font-weight="normal" font-style="normal" fill="#1a1a1a" textLength="27.06" lengthAdjust="spacingAndGlyphs" >0.12</text>
<text x="45.50" y="147.98" font-family="Liberation Sans, sans-serif" font-size="13.90" text-anchor="end" font-weight="normal" font-style="normal" fill="#1a1a1a" textLength="27.06" lengthAdjust="spacingAndGlyphs" >0.14</text>
<text x="45.50" y="107.42" font-family="Liberation Sans, sans-serif" font-size="13.90" text-anchor="end" font-weight="normal" font-style="normal" fill="#1a1a1a" textLength="27.06" lengthAdjust="spacingAndGlyphs" >0.16</text>
<text x="45.50" y="66.86" font-family="Liberation Sans, sans-serif" font-size="13.90" text-anchor="end" font-weight="normal" font-style="normal" fill="#1a1a1a" textLength="27.06" lengthAdjust="spacingAndGlyphs" >0.18</text>
<text x="45.50" y="26.30" font-family="Liberation Sans, sans-serif" font-size="13.90" text-anchor="end" font-weight="normal" font-style="normal" fill="#1a1a1a" textLength="19.33" lengthAdjust="spacingAndGlyphs" >0.2</text>
<text x="79.73" y="455.00" font-family="Liberation Sans, sans-serif" font-size="13.90" text-anchor="middle" font-weight="normal" font-style="normal" fill="#1a1a1a" textLength="23.19" lengthAdjust="spacingAndGlyphs" >285</text>
<text x="129.94" y="455.00" font-family="Liberation Sans, sans-serif" font-size="13.90" text-anchor="middle" font-weight="normal" font-style="normal" fill="#1a1a1a" textLength="23.19" lengthAdjust="spacingAndGlyphs" >290</text>
<text x="180.16" y="455.00" font-family="Liberation Sans, sans-serif" font-size="13.90" text-anchor="middle" font-weight="normal" font-style="normal" fill="#1a1a1a" textLength="23.19" lengthAdjust="spacingAndGlyphs" >295</text>
<text x="230.37" y="455.00" font-family="Liberation Sans, sans-serif" font-size="13.90" text-anchor="middle" font-weight="normal" font-style="normal" fill="#1a1a1a" textLength="23.19" lengthAdjust="spacingAndGlyphs" >300</text>
<text x="280.59" y="455.00" font-family="Liberation Sans, sans-serif" font-size="13.90" text-anchor="middle" font-weight="normal" font-style="normal" fill="#1a1a1a" textLength="23.19" lengthAdjust="spacingAndGlyphs" >305</text>
<text x="330.80" y="455.00" font-family="Liberation Sans, sans-serif" font-size="13.90" text-anchor="middle" font-weight="normal" font-style="normal" fill="#1a1a1a" textLength="23.19" lengthAdjust="spacingAndGlyphs" >310</text>
<text x="408.20" y="429.30" font-family="Liberation Sans, sans-serif" font-size="13.90" text-anchor="end" font-weight="normal" font-style="normal" fill="#1a1a1a" textLength="7.73" lengthAdjust="spacingAndGlyphs" >0</text>
<text x="408.20" y="364.15" font-family="Liberation Sans, sans-serif" font-size="13.90" text-anchor="end" font-weight="normal" font-style="normal" fill="#1a1a1a" textLength="19.33" lengthAdjust="spacingAndGlyphs" >0.1</text>
<text x="408.20" y="299.00" font-family="Liberation Sans, sans-serif" font-size="13.90" text-anchor="end" font-weight="normal" font-style="normal" fill="#1a1a1a" textLength="19.33" lengthAdjust="spacingAndGlyphs" >0.2</text>
<text x="408.20" y="233.85" font-family="Liberation Sans, sans-serif" font-size="13.90" text-anchor="end" font-weight="normal" font-style="normal" fill="#1a1a1a" textLength="19.33" lengthAdjust="spacingAndGlyphs" >0.3</text>
<text x="408.20" y="168.70" font-family="Liberation Sans, sans-serif" font-size="13.90" text-anchor="end" font-weight="normal" font-style="normal" fill="#1a1a1a" textLength="19.33" lengthAdjust="spacingAndGlyphs" >0.4</text>
<text x="408.20" y="103.55" font-family="Liberation Sans, sans-serif" font-size="13.90" text-anchor="end" font-weight="normal" font-style="normal" fill="#1a1a1a" textLength="19.33" lengthAdjust="spacingAndGlyphs" >0.5</text>
<text x="408.20" y="38.40" font-family="Liberation Sans, sans-serif" font-size="13.90" text-anchor="end" font-weight="normal" font-style="normal" fill="#1a1a1a" textLength="19.33" lengthAdjust="spacingAndGlyphs" >0.6</text>
<text x="442.80" y="455.00" font-family="Liberation Sans, sans-serif" font-size="13.90" text-anchor="middle" font-weight="normal" font-style="normal" fill="#1a1a1a" textLength="23.19" lengthAdjust="spacingAndGlyphs" >400</text>
<text x="493.64" y="455.00" font-family="Liberation Sans, sans-serif" font-size="13.90" text-anchor="middle" font-weight="normal" font-style="normal" fill="#1a1a1a" textLength="23.19" lengthAdjust="spacingAndGlyphs" >405</text>
<text x="544.48" y="455.00" font-family="Liberation Sans, sans-serif" font-size="13.90" text-anchor="middle" font-weight="normal" font-style="normal" fill="#1a1a1a" textLength="23.19" lengthAdjust="spacingAndGlyphs" >410</text>
<text x="595.32" y="455.00" font-family="Liberation Sans, sans-serif" font-size="13.90" text-anchor="middle" font-weight="normal" font-style="normal" fill="#1a1a1a" textLength="23.19" lengthAdjust="spacingAndGlyphs" >415</text>
<text x="646.16" y="455.00" font-family="Liberation Sans, sans-serif" font-size="13.90" text-anchor="middle" font-weight="normal" font-style="normal" fill="#1a1a1a" textLength="23.19" lengthAdjust="spacingAndGlyphs" >420</text>
<text x="697.00" y="455.00" font-family="Liberation Sans, sans-serif" font-size="13.90" text-anchor="middle" font-weight="normal" font-style="normal" fill="#1a1a1a" textLength="23.19" lengthAdjust="spacingAndGlyphs" >425</text>
<text x="79.70" y="36.20" font-family="Liberation Sans, sans-serif" font-size="12.90" text-anchor="middle" font-weight="bold" font-style="normal" fill="#000" textLength="8.95" lengthAdjust="spacingAndGlyphs" >A</text>
<text x="92.00" y="60.60" font-family="Liberation Sans, sans-serif" font-size="12.90" text-anchor="middle" font-weight="bold" font-style="normal" fill="#000" textLength="8.95" lengthAdjust="spacingAndGlyphs" >B</text>
<text x="112.50" y="74.20" font-family="Liberation Sans, sans-serif" font-size="12.90" text-anchor="middle" font-weight="bold" font-style="normal" fill="#000" textLength="8.95" lengthAdjust="spacingAndGlyphs" >C</text>
<text x="78.80" y="163.20" font-family="Liberation Sans, sans-serif" font-size="12.90" text-anchor="middle" font-weight="bold" font-style="normal" fill="#D95319" textLength="8.95" lengthAdjust="spacingAndGlyphs" >A</text>
<text x="87.00" y="154.30" font-family="Liberation Sans, sans-serif" font-size="12.90" text-anchor="middle" font-weight="bold" font-style="normal" fill="#D95319" textLength="8.95" lengthAdjust="spacingAndGlyphs" >B</text>
<text x="110.50" y="226.30" font-family="Liberation Sans, sans-serif" font-size="12.90" text-anchor="middle" font-weight="bold" font-style="normal" fill="#D95319" textLength="8.95" lengthAdjust="spacingAndGlyphs" >C</text>
<text x="76.20" y="292.10" font-family="Liberation Sans, sans-serif" font-size="12.90" text-anchor="middle" font-weight="bold" font-style="normal" fill="#0072BD" textLength="8.95" lengthAdjust="spacingAndGlyphs" >A</text>
<text x="88.30" y="286.30" font-family="Liberation Sans, sans-serif" font-size="12.90" text-anchor="middle" font-weight="bold" font-style="normal" fill="#0072BD" textLength="8.95" lengthAdjust="spacingAndGlyphs" >B</text>
<text x="105.50" y="292.30" font-family="Liberation Sans, sans-serif" font-size="12.90" text-anchor="middle" font-weight="bold" font-style="normal" fill="#0072BD" textLength="8.95" lengthAdjust="spacingAndGlyphs" >C</text>
<text x="226.50" y="95.80" font-family="Liberation Sans, sans-serif" font-size="12.90" text-anchor="start" font-weight="bold" font-style="normal" fill="#000" textLength="68.00" lengthAdjust="spacingAndGlyphs" >Experiment</text>
<text x="227.00" y="251.00" font-family="Liberation Sans, sans-serif" font-size="12.90" text-anchor="start" font-weight="bold" font-style="normal" fill="#D95319" textLength="45.80" lengthAdjust="spacingAndGlyphs" >OCEAN</text>
<text x="219.10" y="356.80" font-family="Liberation Sans, sans-serif" font-size="12.90" text-anchor="start" font-weight="bold" font-style="normal" fill="#0072BD" textLength="56.30" lengthAdjust="spacingAndGlyphs" >deMon2K</text>
<text x="441.00" y="142.80" font-family="Liberation Sans, sans-serif" font-size="12.90" text-anchor="middle" font-weight="bold" font-style="normal" fill="#000" textLength="11.90" lengthAdjust="spacingAndGlyphs" >A'</text>
<text x="484.90" y="22.00" font-family="Liberation Sans, sans-serif" font-size="12.90" text-anchor="middle" font-weight="bold" font-style="normal" fill="#000" textLength="11.90" lengthAdjust="spacingAndGlyphs" >B'</text>
<text x="481.20" y="159.20" font-family="Liberation Sans, sans-serif" font-size="12.90" text-anchor="middle" font-weight="bold" font-style="normal" fill="#D95319" textLength="11.90" lengthAdjust="spacingAndGlyphs" >B'</text>
<text x="479.00" y="276.20" font-family="Liberation Sans, sans-serif" font-size="12.90" text-anchor="middle" font-weight="bold" font-style="normal" fill="#0072BD" textLength="11.90" lengthAdjust="spacingAndGlyphs" >B'</text>
<text transform="translate(11.30,288.60) rotate(-90)" font-family="Liberation Serif, serif" font-size="14.20" textLength="58.60" lengthAdjust="spacingAndGlyphs" fill="#111">Intensity</text>
<path d="M0.70 223.10 H15.20 M1.00 223.10 V220.40 M14.90 223.10 V220.40" fill="none" stroke="#111" stroke-width="0.9"/>
<text transform="translate(11.30,220.50) rotate(-90)" font-family="Liberation Serif, serif" font-size="14.20" textLength="24.80" lengthAdjust="spacingAndGlyphs" fill="#111">arb.</text>
<text transform="translate(11.30,186.30) rotate(-90)" font-family="Liberation Serif, serif" font-size="14.20" textLength="30.60" lengthAdjust="spacingAndGlyphs" fill="#111">units</text>
<path d="M0.70 152.20 H15.20 M1.00 152.20 V154.90 M14.90 152.20 V154.90" fill="none" stroke="#111" stroke-width="0.9"/>
<text transform="translate(381.80,288.60) rotate(-90)" font-family="Liberation Serif, serif" font-size="14.20" textLength="58.60" lengthAdjust="spacingAndGlyphs" fill="#111">Intensity</text>
<path d="M371.20 223.10 H385.70 M371.50 223.10 V220.40 M385.40 223.10 V220.40" fill="none" stroke="#111" stroke-width="0.9"/>
<text transform="translate(381.80,220.50) rotate(-90)" font-family="Liberation Serif, serif" font-size="14.20" textLength="24.80" lengthAdjust="spacingAndGlyphs" fill="#111">arb.</text>
<text transform="translate(381.80,186.30) rotate(-90)" font-family="Liberation Serif, serif" font-size="14.20" textLength="30.60" lengthAdjust="spacingAndGlyphs" fill="#111">units</text>
<path d="M371.20 152.20 H385.70 M371.50 152.20 V154.90 M385.40 152.20 V154.90" fill="none" stroke="#111" stroke-width="0.9"/>
<text x="168.90" y="470.9" font-family="Liberation Serif, serif" font-size="15.5" font-style="italic" textLength="9.4" lengthAdjust="spacingAndGlyphs" fill="#111">ω</text>
<path d="M186.50 460.50 V474.50 M186.50 460.80 H189.20 M186.50 474.20 H189.20" fill="none" stroke="#111" stroke-width="0.9"/>
<text x="189.20" y="470.9" font-family="Liberation Serif, serif" font-size="13.5" textLength="17.4" lengthAdjust="spacingAndGlyphs" fill="#111">eV</text>
<path d="M209.40 460.50 V474.50 M209.40 460.80 H206.70 M209.40 474.20 H206.70" fill="none" stroke="#111" stroke-width="0.9"/>
<text x="533.40" y="470.9" font-family="Liberation Serif, serif" font-size="15.5" font-style="italic" textLength="9.4" lengthAdjust="spacingAndGlyphs" fill="#111">ω</text>
<path d="M551.00 460.50 V474.50 M551.00 460.80 H553.70 M551.00 474.20 H553.70" fill="none" stroke="#111" stroke-width="0.9"/>
<text x="553.70" y="470.9" font-family="Liberation Serif, serif" font-size="13.5" textLength="17.4" lengthAdjust="spacingAndGlyphs" fill="#111">eV</text>
<path d="M573.90 460.50 V474.50 M573.90 460.80 H571.20 M573.90 474.20 H571.20" fill="none" stroke="#111" stroke-width="0.9"/>
<text x="296.00" y="26.30" font-family="Liberation Serif, serif" font-size="17.40" fill="#111" >(</text>
<text x="308.90" y="26.30" font-family="Liberation Serif, serif" font-size="17.40" fill="#111" >)</text>
<text x="301.60" y="25.70" font-family="Liberation Serif, serif" font-size="17.60" fill="#111" stroke="#111" stroke-width="0.3" textLength="7.6" lengthAdjust="spacingAndGlyphs">a</text>
<text x="659.60" y="28.30" font-family="Liberation Serif, serif" font-size="17.40" fill="#111" >(</text>
<text x="673.00" y="28.30" font-family="Liberation Serif, serif" font-size="17.40" fill="#111" >)</text>
<text x="665.30" y="27.70" font-family="Liberation Serif, serif" font-size="14.80" fill="#111" textLength="8.1" lengthAdjust="spacingAndGlyphs">b</text>
</svg>
</body></html>
